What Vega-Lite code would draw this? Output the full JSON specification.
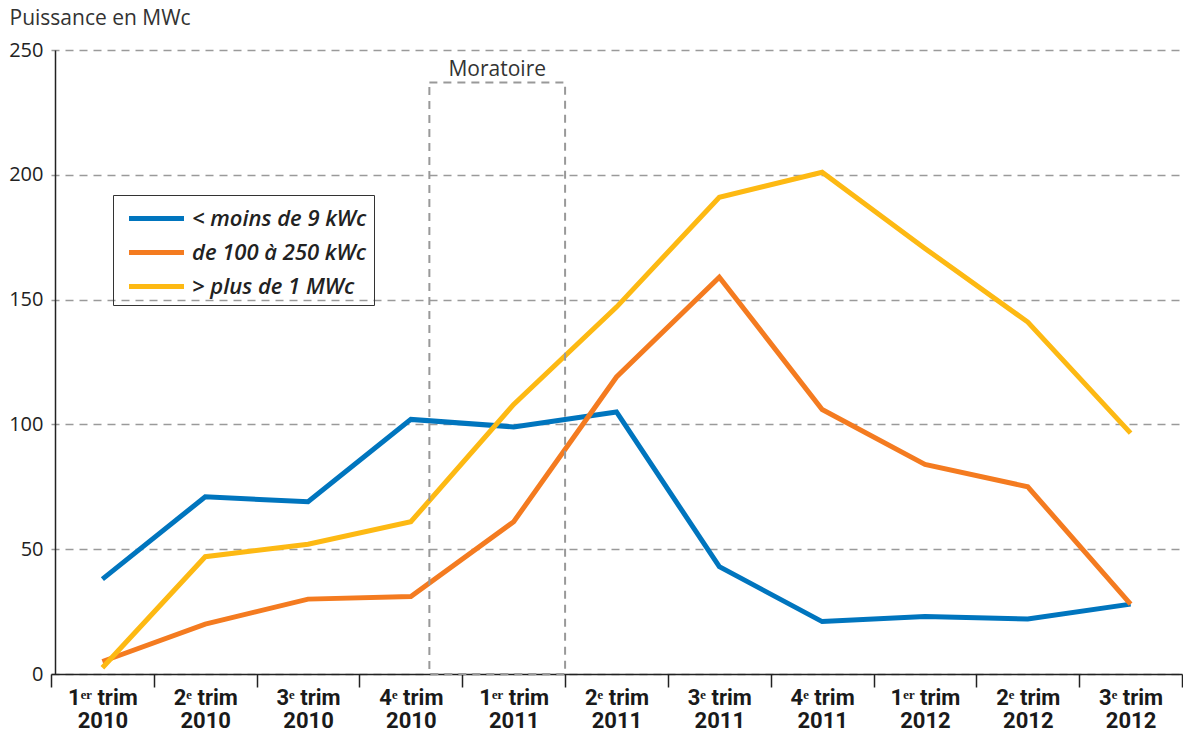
{
  "$schema": "https://vega.github.io/schema/vega-lite/v6.json",
  "width": 1127,
  "height": 624,
  "autosize": {"type": "none"},
  "padding": {"left": 55, "top": 50, "right": 1, "bottom": 59},
  "background": "white",
  "config": {"view": {"stroke": null}, "font": "Open Sans"},
  "datasets": {
    "puissance": [
      {"trimestre": "1ᵉʳ trim 2010", "categorie": "< moins de 9 kWc", "mwc": 38},
      {"trimestre": "2ᵉ trim 2010", "categorie": "< moins de 9 kWc", "mwc": 71},
      {"trimestre": "3ᵉ trim 2010", "categorie": "< moins de 9 kWc", "mwc": 69},
      {"trimestre": "4ᵉ trim 2010", "categorie": "< moins de 9 kWc", "mwc": 102},
      {"trimestre": "1ᵉʳ trim 2011", "categorie": "< moins de 9 kWc", "mwc": 99},
      {"trimestre": "2ᵉ trim 2011", "categorie": "< moins de 9 kWc", "mwc": 105},
      {"trimestre": "3ᵉ trim 2011", "categorie": "< moins de 9 kWc", "mwc": 43},
      {"trimestre": "4ᵉ trim 2011", "categorie": "< moins de 9 kWc", "mwc": 21},
      {"trimestre": "1ᵉʳ trim 2012", "categorie": "< moins de 9 kWc", "mwc": 23},
      {"trimestre": "2ᵉ trim 2012", "categorie": "< moins de 9 kWc", "mwc": 22},
      {"trimestre": "3ᵉ trim 2012", "categorie": "< moins de 9 kWc", "mwc": 28},
      {"trimestre": "1ᵉʳ trim 2010", "categorie": "de 100 à 250 kWc", "mwc": 5},
      {"trimestre": "2ᵉ trim 2010", "categorie": "de 100 à 250 kWc", "mwc": 20},
      {"trimestre": "3ᵉ trim 2010", "categorie": "de 100 à 250 kWc", "mwc": 30},
      {"trimestre": "4ᵉ trim 2010", "categorie": "de 100 à 250 kWc", "mwc": 31},
      {"trimestre": "1ᵉʳ trim 2011", "categorie": "de 100 à 250 kWc", "mwc": 61},
      {"trimestre": "2ᵉ trim 2011", "categorie": "de 100 à 250 kWc", "mwc": 119},
      {"trimestre": "3ᵉ trim 2011", "categorie": "de 100 à 250 kWc", "mwc": 159},
      {"trimestre": "4ᵉ trim 2011", "categorie": "de 100 à 250 kWc", "mwc": 106},
      {"trimestre": "1ᵉʳ trim 2012", "categorie": "de 100 à 250 kWc", "mwc": 84},
      {"trimestre": "2ᵉ trim 2012", "categorie": "de 100 à 250 kWc", "mwc": 75},
      {"trimestre": "3ᵉ trim 2012", "categorie": "de 100 à 250 kWc", "mwc": 28},
      {"trimestre": "1ᵉʳ trim 2010", "categorie": "> plus de 1 MWc", "mwc": 2.5},
      {"trimestre": "2ᵉ trim 2010", "categorie": "> plus de 1 MWc", "mwc": 47},
      {"trimestre": "3ᵉ trim 2010", "categorie": "> plus de 1 MWc", "mwc": 52},
      {"trimestre": "4ᵉ trim 2010", "categorie": "> plus de 1 MWc", "mwc": 61},
      {"trimestre": "1ᵉʳ trim 2011", "categorie": "> plus de 1 MWc", "mwc": 108},
      {"trimestre": "2ᵉ trim 2011", "categorie": "> plus de 1 MWc", "mwc": 147},
      {"trimestre": "3ᵉ trim 2011", "categorie": "> plus de 1 MWc", "mwc": 191},
      {"trimestre": "4ᵉ trim 2011", "categorie": "> plus de 1 MWc", "mwc": 201},
      {"trimestre": "1ᵉʳ trim 2012", "categorie": "> plus de 1 MWc", "mwc": 170.5},
      {"trimestre": "2ᵉ trim 2012", "categorie": "> plus de 1 MWc", "mwc": 141},
      {"trimestre": "3ᵉ trim 2012", "categorie": "> plus de 1 MWc", "mwc": 96.5}
    ],
    "moratoire": [
      {"debut": "4ᵉ trim 2010", "fin": "1ᵉʳ trim 2011", "haut": 237, "libelle": "Moratoire"}
    ]
  },
  "layer": [
    {
      "data": {"name": "puissance"},
      "mark": {"type": "line", "strokeWidth": 5, "strokeCap": "butt"},
      "encoding": {
        "x": {
          "field": "trimestre",
          "type": "ordinal",
          "title": null,
          "scale": {
            "type": "band",
            "domain": ["1ᵉʳ trim 2010", "2ᵉ trim 2010", "3ᵉ trim 2010", "4ᵉ trim 2010", "1ᵉʳ trim 2011", "2ᵉ trim 2011", "3ᵉ trim 2011", "4ᵉ trim 2011", "1ᵉʳ trim 2012", "2ᵉ trim 2012", "3ᵉ trim 2012"],
            "range": [-4, 1127],
            "paddingInner": 0,
            "paddingOuter": 0
          },
          "axis": {
            "tickBand": "extent",
            "tickSize": 13,
            "tickColor": "#222",
            "tickWidth": 1.5,
            "domainColor": "#222",
            "domainWidth": 1.5,
            "labelAngle": 0,
            "labelFont": "Roboto",
            "labelFontWeight": "bold",
            "labelFontSize": 22,
            "labelColor": "#1a1a1a",
            "labelLineHeight": 23,
            "labelPadding": 0,
            "labelBaseline": "top",
            "grid": false,
            "labelExpr": "[slice(datum.label, 0, -5), slice(datum.label, -4)]"
          }
        },
        "y": {
          "field": "mwc",
          "type": "quantitative",
          "title": "Puissance en MWc",
          "scale": {"domain": [0, 250], "nice": false},
          "axis": {
            "values": [0, 50, 100, 150, 200, 250],
            "grid": true,
            "gridDash": [8, 6],
            "gridColor": "#9a9a9a",
            "gridWidth": 1.5,
            "domainColor": "#222",
            "domainWidth": 1.5,
            "ticks": false,
            "labelFont": "Open Sans",
            "labelFontSize": 20,
            "labelColor": "#222",
            "labelPadding": 12,
            "titleAngle": 0,
            "titleX": -46,
            "titleY": -32,
            "titleAlign": "left",
            "titleBaseline": "middle",
            "titleFont": "Open Sans",
            "titleFontSize": 21,
            "titleFontWeight": "normal",
            "titleColor": "#333"
          }
        },
        "color": {
          "field": "categorie",
          "type": "nominal",
          "scale": {
            "domain": ["< moins de 9 kWc", "de 100 à 250 kWc", "> plus de 1 MWc"],
            "range": ["#0075be", "#f47b20", "#fdb913"]
          },
          "legend": {
            "title": null,
            "orient": "none",
            "legendX": 58,
            "legendY": 145,
            "strokeColor": "#333",
            "padding": 7,
            "symbolType": "M-2,0H2",
            "symbolSize": 756,
            "symbolStrokeWidth": 5,
            "symbolOffset": 20,
            "rowPadding": 6,
            "labelFont": "Open Sans",
            "labelFontStyle": "italic",
            "labelFontWeight": 600,
            "labelFontSize": 22,
            "labelColor": "#222",
            "labelOffset": 19,
            "labelLimit": 0
          }
        }
      }
    },
    {
      "data": {"name": "moratoire"},
      "mark": {"type": "rect", "fillOpacity": 0, "stroke": "#999", "strokeWidth": 2, "strokeDash": [8, 6]},
      "encoding": {
        "x": {"field": "debut", "type": "ordinal", "bandPosition": 0.68, "title": null},
        "x2": {"field": "fin", "bandPosition": 1},
        "y": {"field": "haut", "type": "quantitative", "title": "Puissance en MWc"},
        "y2": {"datum": 0}
      }
    },
    {
      "data": {"name": "moratoire"},
      "mark": {"type": "text", "font": "Open Sans", "fontSize": 21, "color": "#333", "baseline": "bottom", "dy": -2},
      "encoding": {
        "x": {"field": "fin", "type": "ordinal", "bandPosition": 0.34, "title": null},
        "y": {"field": "haut", "type": "quantitative", "title": "Puissance en MWc"},
        "text": {"field": "libelle"}
      }
    }
  ]
}
